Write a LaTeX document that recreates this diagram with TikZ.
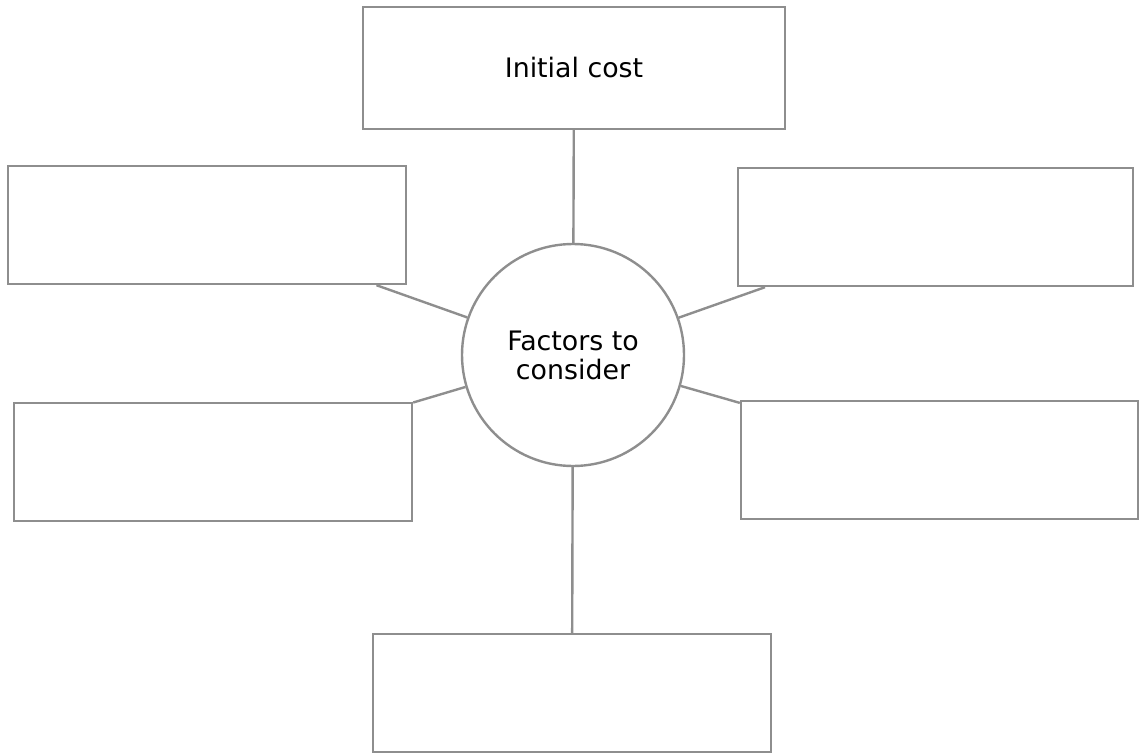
\documentclass[tikz,border=0pt]{standalone}
\usepackage{fontspec}
\setmainfont{DejaVu Sans}
\usepackage{tikz}
\definecolor{linegray}{HTML}{8E8E8E}
\tikzstyle{box} = [rectangle, draw=linegray, line width=1.2pt, inner sep=0pt, minimum width=199pt, minimum height=59pt]
\tikzstyle{hub} = [circle, draw=linegray, line width=1.2pt, inner sep=0pt, minimum size=111pt, align=center]
\tikzset{edge/.style = {
    draw=linegray,
    line width=1.2pt,
  }
}

\begin{document}
\begin{tikzpicture}[x=0.5pt, y=-0.5pt, font=\fontsize{13.4}{14.5}\selectfont]
            \useasboundingbox (0,0) rectangle (1140,754);
            % vertices
            \node[hub] (factors) at (573 , 355) {Factors to\\consider};
            \node[box, minimum width=211pt, minimum height=61pt] (cost) at (574 , 68) {Initial cost};
            \node[box] (ltop) at (207 , 225) {};
            \node[box, minimum width=197.5pt] (rtop) at (935.5 , 227) {};
            \node[box] (llow) at (213 , 462) {};
            \node[box, minimum width=198.5pt] (rlow) at (939.5 , 460) {};
            \node[box] (bottom) at (572 , 693) {};

            %edges
            \draw[edge] (factors) to (cost);
            \draw[edge] (factors) to (ltop);
            \draw[edge] (factors) to (rtop);
            \draw[edge] (factors) to (llow);
            \draw[edge] (factors) to (rlow);
            \draw[edge] (factors) to (bottom);
\end{tikzpicture}
\end{document}
